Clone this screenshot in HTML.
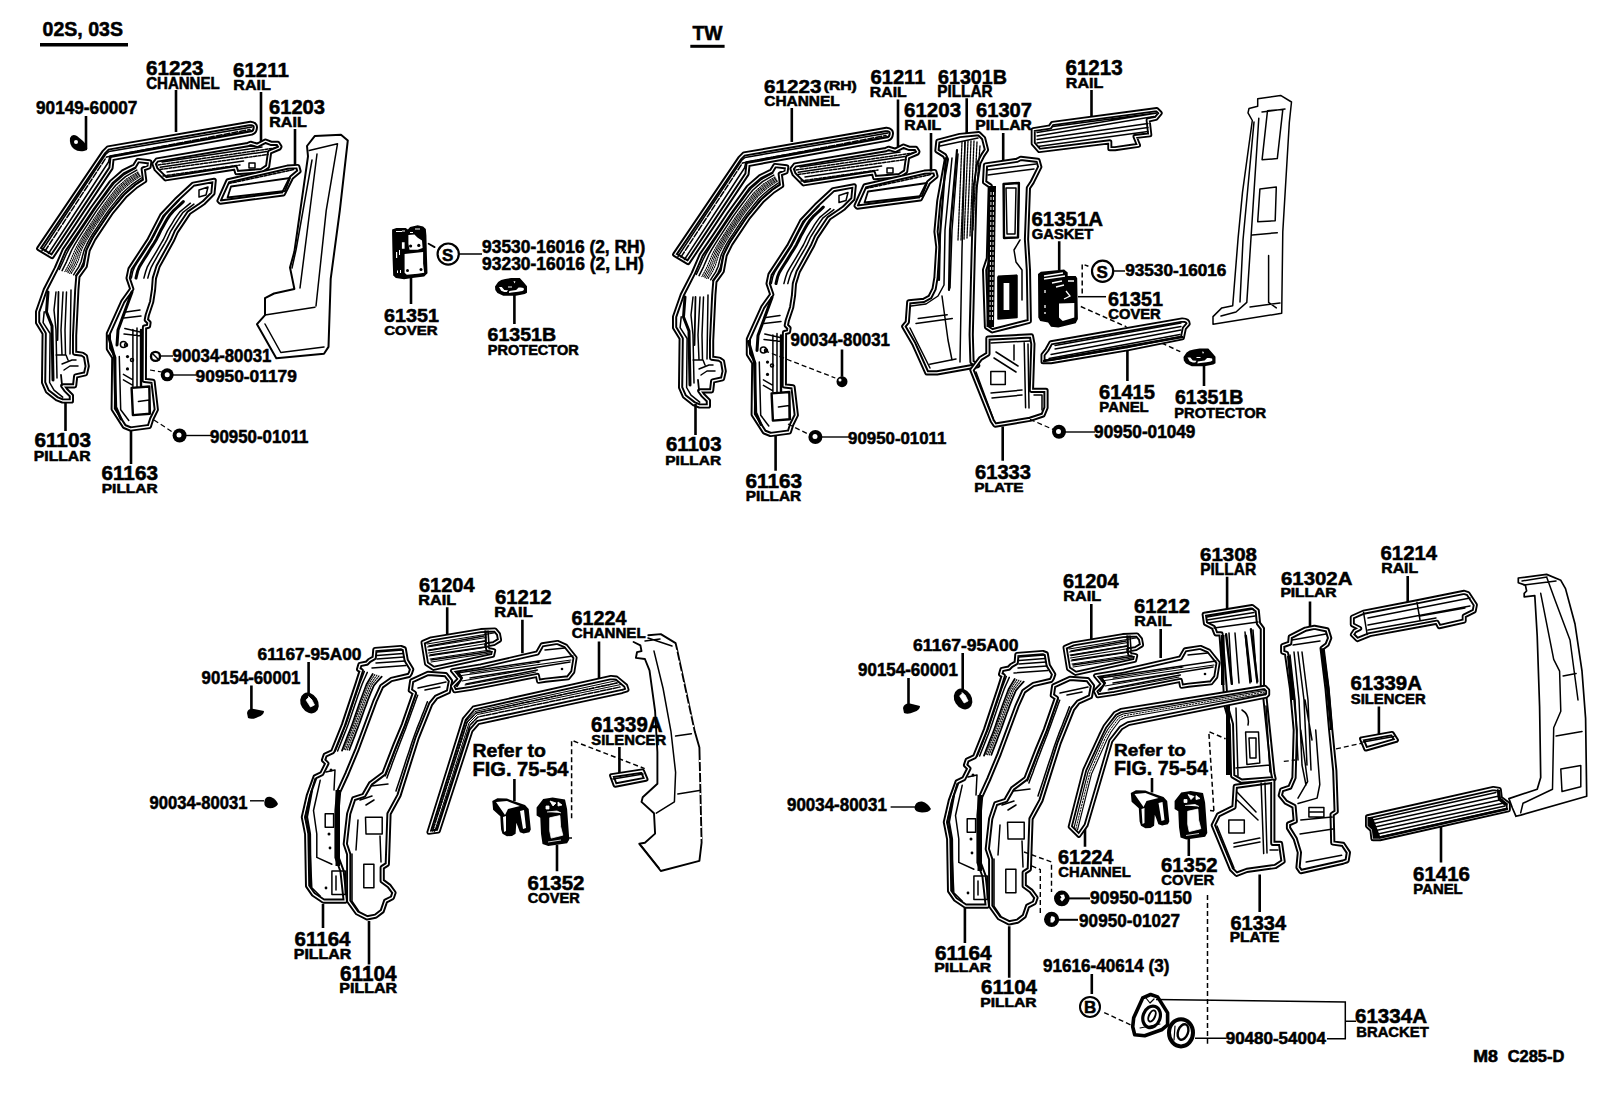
<!DOCTYPE html>
<html><head><meta charset="utf-8"><title>Parts diagram</title>
<style>
html,body{margin:0;padding:0;background:#fff;width:1608px;height:1102px;overflow:hidden}
svg{display:block}
text{font-family:"Liberation Sans",sans-serif;font-weight:bold;fill:#000;stroke:#000;stroke-width:0.55px}
.o{fill:none;stroke:#000;stroke-width:2.8;stroke-linejoin:round;stroke-linecap:round}
.t{fill:none;stroke:#000;stroke-width:1.5;stroke-linejoin:round;stroke-linecap:round}
.h{fill:none;stroke:#000;stroke-width:1;stroke-linecap:round}
.oa{fill:none;stroke:#000;stroke-width:5.2;stroke-linejoin:round;stroke-linecap:round}
.ob{fill:none;stroke:#fff;stroke-width:1.3;stroke-linejoin:round;stroke-linecap:round}
.w{fill:#fff;stroke:#000;stroke-width:2.2;stroke-linejoin:round}
.f{fill:#000;stroke:none}
.l{fill:none;stroke:#000;stroke-width:2.6;stroke-linecap:butt}
.d{fill:none;stroke:#000;stroke-width:1.6;stroke-dasharray:5 3}
</style></head><body>
<svg width="1608" height="1102" viewBox="0 0 1608 1102">
<!-- underlines -->
<rect x="40" y="43" width="88" height="3.5" class="f"/>
<rect x="690.3" y="44.8" width="34.3" height="3" class="f"/>

<!-- ============ SECTION A (02S,03S) ============ -->
<!-- leaders A -->
<path class="l" d="M176,90V132 M261,92V145 M295,129V167 M86,116V149 M65.5,401V431 M131,429V464 M411,278V304 M514.4,294V324"/>
<g id="a1">
<path class="oa" d="M38.7,248.5 L104,152 L108,148 L250.5,123.4 Q256,124 255.3,128 Q255,132 251.8,133 L112,158.5 L111,168 L52,256.5 Z"/><path class="ob" d="M38.7,248.5 L104,152 L108,148 L250.5,123.4 Q256,124 255.3,128 Q255,132 251.8,133 L112,158.5 L111,168 L52,256.5 Z"/>
<path class="t" d="M45,251 L106.5,157 L250,129.5" style="stroke-dasharray:6 2"/>
<path class="t" d="M42,250.5 L105.5,154.5 L109,151.5 L252,127 M48.5,253.5 L108.5,162 L110,156 L252.5,130.5"/>
</g>
<!-- bolt 90149 -->
<path class="f" d="M70,138 Q72,133 77,136 L83,141 Q88,146 87,150 L84,151 Q78,152 74,149 Q69,145 70,138 Z"/>
<circle cx="76" cy="142" r="2" fill="#fff"/>
<g id="a3">
<path class="oa" d="M154,163.8 L157,160 L247.7,144.6 L250.5,143.3 L257.3,145.3 L265.5,141.2 L271,143.3 L277.8,143.3 L279.9,146.7 L279.2,148 L269.6,152.1 L267.6,166.5 L261.4,170.6 L236.8,172.7 L235.4,167.9 L165.7,178.8 L156.1,169.2 Z"/><path class="ob" d="M154,163.8 L157,160 L247.7,144.6 L250.5,143.3 L257.3,145.3 L265.5,141.2 L271,143.3 L277.8,143.3 L279.9,146.7 L279.2,148 L269.6,152.1 L267.6,166.5 L261.4,170.6 L236.8,172.7 L235.4,167.9 L165.7,178.8 L156.1,169.2 Z"/>
<path class="t" d="M160.2,167.2 L266.9,151.5 M167,172 L243.6,161 M162,162 L262,147"/>
<path class="t" d="M249,163 h6 v5 h-6 z"/>
<path class="t" d="M158,165 L275,148 M163,176 L240,165 M160,169.5 L268,154.5" style="stroke-dasharray:3 1.5"/>
</g>
<g id="a4">
<path class="oa" d="M219,200.7 L227.9,180.9 L287.4,167.2 L297.7,166.5 L299,171.3 L291.5,177.5 L283.3,193.9 L220.4,202.1 Z"/><path class="ob" d="M219,200.7 L227.9,180.9 L287.4,167.2 L297.7,166.5 L299,171.3 L291.5,177.5 L283.3,193.9 L220.4,202.1 Z"/>
<path class="t" d="M229,183.5 L294,169.5" style="stroke-dasharray:3 1.5"/><path class="t" d="M231,186.5 L290,178 L285,191 L227.5,197.5 Z" style="stroke-width:1.8"/>

</g>
<g id="a2">
<path class="oa" d="M137.9,160.5 L149.7,161.8 L149,166.9 L143.2,169 L144.7,180.6 L135.9,186.4 L125.8,195.2 L111.3,212.6 L93.9,238.7 L88.1,250.3 L85.2,266.3 L77.9,276.4 L76.8,290 L74.6,335.7 L74.6,353.1 L82.3,354.2 L85.5,356.4 L87.2,366.2 L85.5,373.8 L75.7,376 L74.6,385.8 L62.7,385.8 L65.9,390.2 L71.4,395.6 L71.4,401 L62.7,401 L57.2,398.9 L47.4,391.2 L43.6,382.5 L44.2,333.5 L37.6,322.7 L37.6,311.8 L45.2,290 L56.3,268.4 L64.2,250 L77.9,230 L92.4,208.2 L111.3,182.1 L122.9,171.9 L134.5,166.1 Z"/><path class="ob" d="M137.9,160.5 L149.7,161.8 L149,166.9 L143.2,169 L144.7,180.6 L135.9,186.4 L125.8,195.2 L111.3,212.6 L93.9,238.7 L88.1,250.3 L85.2,266.3 L77.9,276.4 L76.8,290 L74.6,335.7 L74.6,353.1 L82.3,354.2 L85.5,356.4 L87.2,366.2 L85.5,373.8 L75.7,376 L74.6,385.8 L62.7,385.8 L65.9,390.2 L71.4,395.6 L71.4,401 L62.7,401 L57.2,398.9 L47.4,391.2 L43.6,382.5 L44.2,333.5 L37.6,322.7 L37.6,311.8 L45.2,290 L56.3,268.4 L64.2,250 L77.9,230 L92.4,208.2 L111.3,182.1 L122.9,171.9 L134.5,166.1 Z"/>


<path class="t" d="M135.7,168.2 L129.8,171.3 L124.1,174.5 L119.1,178.9 L114.1,183.3 L110.0,188.4 L106.1,193.7 L102.1,199.1 L98.2,204.4 L94.4,209.8 L90.7,215.3 L87.0,220.9 L83.4,226.4 L79.7,231.9 L76.1,237.4 L72.5,243.0 L69.1,248.6 L66.1,254.5 L63.5,260.5 L60.7,266.5 L59.3,269.5"/>
<path class="t" d="M136.8,170.1 L131.1,173.3 L125.5,176.6 L120.6,180.9 L115.7,185.3 L111.6,190.4 L107.7,195.6 L103.8,200.8 L99.9,206.1 L96.1,211.4 L92.5,216.9 L88.9,222.3 L85.3,227.8 L81.7,233.3 L78.2,238.8 L74.8,244.3 L71.7,250.0 L69.1,255.9 L66.5,261.8 L63.6,267.6 L62.1,270.6"/>
<path class="t" d="M141.3,178.0 L136.2,181.6 L131.3,185.2 L126.6,189.3 L122.2,193.5 L118.2,198.3 L114.3,203.1 L110.4,207.9 L106.8,212.9 L103.3,218.0 L99.9,223.2 L96.5,228.3 L93.0,233.5 L89.8,238.7 L86.9,244.2 L84.3,249.7 L82.6,255.6 L81.1,261.5 L78.6,267.1 L75.3,272.2 L73.6,274.8"/>
<path class="t" d="M142.2,179.5 L137.2,183.1 L132.4,186.9 L127.8,190.9 L123.4,195.1 L119.5,199.8 L115.6,204.5 L111.7,209.3 L108.1,214.2 L104.7,219.3 L101.3,224.4 L97.9,229.5 L94.5,234.5 L91.3,239.8 L88.5,245.2 L86.0,250.7 L84.7,256.7 L83.4,262.6 L80.9,268.1 L77.5,273.1 L75.7,275.6"/>
<path class="t" d="M137.9,172.1 L132.4,175.3 L126.9,178.7 L122.1,183.0 L117.3,187.3 L113.2,192.3 L109.3,197.4 L105.4,202.6 L101.6,207.8 L97.9,213.1 L94.3,218.4 L90.7,223.8 L87.2,229.2 L83.7,234.6 L80.3,240.1 L77.1,245.6 L74.4,251.4 L72.0,257.2 L69.5,263.1 L66.4,268.8 L64.9,271.6" style="stroke-dasharray:1.2 1.3;stroke-width:1.1"/>
<path class="t" d="M138.5,173.1 L133.0,176.4 L127.7,179.9 L122.9,184.1 L118.2,188.4 L114.1,193.4 L110.2,198.4 L106.3,203.5 L102.5,208.7 L98.8,213.9 L95.3,219.3 L91.7,224.6 L88.2,229.9 L84.8,235.3 L81.5,240.8 L78.4,246.4 L75.9,252.1 L73.6,258.0 L71.1,263.8 L68.0,269.4 L66.5,272.2" style="stroke-dasharray:1.2 1.3;stroke-width:1.1"/>
<path class="t" d="M139.1,174.1 L133.7,177.5 L128.5,181.0 L123.7,185.2 L119.0,189.5 L115.0,194.4 L111.1,199.4 L107.2,204.4 L103.4,209.6 L99.8,214.8 L96.3,220.1 L92.7,225.4 L89.2,230.7 L85.8,236.0 L82.6,241.5 L79.6,247.1 L77.3,252.8 L75.2,258.7 L72.7,264.5 L69.5,270.0 L68.0,272.7" style="stroke-dasharray:1.2 1.3;stroke-width:1.1"/>
<path class="t" d="M139.7,175.2 L134.4,178.6 L129.2,182.1 L124.5,186.3 L119.9,190.6 L115.9,195.5 L112.0,200.4 L108.1,205.4 L104.3,210.5 L100.7,215.7 L97.2,220.9 L93.7,226.2 L90.2,231.4 L86.9,236.8 L83.8,242.2 L80.9,247.8 L78.7,253.6 L76.8,259.5 L74.3,265.2 L71.1,270.6 L69.5,273.3" style="stroke-dasharray:1.2 1.3;stroke-width:1.1"/>
<path class="t" d="M140.3,176.2 L135.1,179.7 L130.0,183.3 L125.3,187.4 L120.7,191.7 L116.7,196.5 L112.8,201.4 L108.9,206.3 L105.2,211.4 L101.7,216.5 L98.2,221.8 L94.7,227.0 L91.3,232.2 L88.0,237.5 L84.9,243.0 L82.1,248.5 L80.2,254.3 L78.4,260.2 L75.9,265.9 L72.6,271.2 L71.0,273.8" style="stroke-dasharray:1.2 1.3;stroke-width:1.1"/>
<path class="t" d="M44.2,311.8 L43.1,322.7 L50.1,333.5 L49.6,382.5 L54,390.2 L62.7,397.2 M56,292 L54,310 L56,330 L57,378 M63,292 L61,330 L62,355 M66.5,292 L65,330 L65.5,355 M71,290 L70,354 M56,355 L66,355 L68,360 M62,364 L72,360 L76,360 M64,370 L70,366 L78,366"/>
<path class="t" style="stroke-width:3" d="M48,292 L46.5,312 L52,326 L53,380"/>
<path class="t" style="stroke-width:1.8" d="M58.5,292 L57.5,340 M61,375 L62,385"/>
</g>
<g id="a5">
<path class="oa" d="M193.2,184.2 L214.2,180.3 L212.9,193.4 L203.7,202.6 L199.8,205.4 L188.9,212.7 L176.2,231.7 L172.6,240 L158.1,266.3 L154.4,278.1 L153.5,289.9 L151.7,301.7 L147.2,315.3 L146.3,319.9 L149,322.6 L148.5,326.2 L144.5,327.1 L144.3,380.4 L153,381.4 L156.3,409.7 L151.7,419 L149.3,426.5 L130.6,429 L124.4,426.5 L113.2,409.1 L113.8,357.5 L108.4,348.8 L108.4,333.5 L122.7,301.7 L131.8,289 L128.1,278.1 L130,269 L149,240 L161.7,215.4 L176.2,200 Z"/><path class="ob" d="M193.2,184.2 L214.2,180.3 L212.9,193.4 L203.7,202.6 L199.8,205.4 L188.9,212.7 L176.2,231.7 L172.6,240 L158.1,266.3 L154.4,278.1 L153.5,289.9 L151.7,301.7 L147.2,315.3 L146.3,319.9 L149,322.6 L148.5,326.2 L144.5,327.1 L144.3,380.4 L153,381.4 L156.3,409.7 L151.7,419 L149.3,426.5 L130.6,429 L124.4,426.5 L113.2,409.1 L113.8,357.5 L108.4,348.8 L108.4,333.5 L122.7,301.7 L131.8,289 L128.1,278.1 L130,269 L149,240 L161.7,215.4 L176.2,200 Z"/>
<path class="t" d="M199,190 L208,187 L206,195 L199,197 Z"/>
<circle class="t" cx="126" cy="345" r="1.5"/><circle class="t" cx="132" cy="360" r="1.5"/>
<path class="t" d="M179.0,200.6 L175.7,204.0 L172.4,207.3 L169.1,210.7 L165.9,214.2 L163.3,218.1 L161.1,222.2 L158.8,226.4 L156.6,230.6 L154.5,234.8 L152.3,239.0 L149.9,243.0 L147.3,247.0 L144.8,251.0 L142.2,255.0 L139.7,258.9 L137.1,262.9 L134.6,266.9 L132.8,271.2 L131.8,275.8 L131.3,278.1"/>
<path class="t" d="M190.4,203.2 L186.8,206.1 L183.3,209.0 L179.8,211.9 L177.0,215.6 L174.4,219.4 L172.1,223.3 L169.7,227.2 L167.3,231.1 L165.4,235.3 L163.4,239.5 L161.1,243.4 L158.8,247.4 L156.5,251.3 L154.1,255.3 L151.8,259.2 L149.4,263.2 L147.2,267.2 L145.7,271.5 L144.5,275.9 L143.9,278.1"/>
<path class="t" d="M193.9,204.1 L190.3,206.8 L186.7,209.5 L183.1,212.3 L180.5,216.0 L177.9,219.8 L175.5,223.6 L173.1,227.5 L170.7,231.3 L168.8,235.5 L166.9,239.6 L164.7,243.6 L162.4,247.5 L160.1,251.4 L157.8,255.4 L155.6,259.3 L153.3,263.3 L151.2,267.3 L149.7,271.5 L148.4,275.9 L147.8,278.1"/>
<path class="t" d="M183.3,201.6 L179.9,204.8 L176.5,208.0 L173.1,211.2 L170.1,214.7 L167.5,218.6 L165.2,222.6 L162.9,226.7 L160.6,230.8 L158.6,235.0 L156.5,239.2 L154.1,243.2 L151.6,247.1 L149.2,251.1 L146.7,255.1 L144.2,259.0 L141.7,263.0 L139.3,267.0 L137.6,271.3 L136.5,275.8 L136.0,278.1" style="stroke-width:3"/>
<path class="t" d="M119.3,356.6 L120.7,409.7 L128.8,420.5 M132.9,329.4 L132.9,386.5 M137,328 L137,386.5 M124.8,328.5 L142.4,332.6 M124,334 L142,336 M138.4,401.5 L149.3,400.1 L149.3,413.8 M123.4,374.3 L132.9,379.8 M123.4,379.8 L132.9,385.3 M126,312 L140,310 M124,318 L141,316"/>
<path class="t" style="stroke-width:3" d="M108.5,336 L114.5,357 L115.7,407 L121,419 M132,292 L118,330 L117,345"/>
<path class="t" style="stroke-width:2.4" d="M131.6,387.9 L149.3,386.5 L149.9,413.8 L132.9,415.1 Z M141,330 L141,386"/>
<circle class="t" cx="123.4" cy="344.4" r="3"/><circle class="f" cx="127.5" cy="356.6" r="1.6"/><circle class="f" cx="127.5" cy="368.9" r="1.6"/>
</g>
<!-- A6 quarter panel -->
<path class="t" style="stroke-width:2" d="M314.9,135.9 L341,134.7 L347.8,140.4 L339.8,210.7 L330.7,278.8 L328.5,346.9 L324,353.7 L276.3,358.2 L257,324.2 L265,315.1 L265,298.1 L274,293.5 L294.4,289 L290,267.5 L294.4,251.6 L308,156.3 L307,146 Z"/>
<path class="t" d="M309.2,150.6 L337.5,143.8 L326.2,210.7 L316,306 M317,154 L300,288 M265,315 L314.9,307.2 M265,324 L280.8,352.5 L324,346.9 M312,160 L296,250 L292,268"/>
<!-- A7 cover 61351 -->
<path class="f" d="M392.1,229.6 L396.4,228 L405.7,228 L407.9,229.6 L410.1,226.9 L417.7,225.3 L423.1,226.4 L425.8,229.1 L426.4,235.6 L426.9,255.2 L427.5,273.2 L424.2,276.5 L412.2,278.1 L404.1,279.2 L395.9,278.1 L393.2,275.4 L392.6,259 L392.1,234 Z"/>
<path d="M404.6,254.1 L423.1,252 L423.1,263.4 L424.2,272.7 L417.7,273.7 L406.8,274.8 L404.6,272.7 Z M408.4,235.1 L414.4,234.5 L417.7,237.8 L422,240.5 L422.6,248.1 L417.7,249.8 L409.5,249.8 L408.4,243.8 Z M401.9,242.2 h2.7 v6.5 h-2.7 z M396,252 h1.2 v6 h-1.2 z M399,250 h1 v5 h-1 z M397,270.5 h1 v2.5 h-1 z M400,270 h1 v3 h-1 z M396,231 h6 v1 h-6 z M402,230.5 h3 v1 h-3 z M415,228.5 h5 v1 h-5 z M410,232 h3 v1 h-3 z" fill="#fff"/>
<circle class="f" cx="410.6" cy="246" r="1.6"/><circle class="f" cx="418.8" cy="245.4" r="1.6"/><circle class="f" cx="407.5" cy="270.5" r="1.5"/><circle class="f" cx="421" cy="269.5" r="1.5"/>
<path class="h" d="M428.6,243.8 L434.6,247.1" style="stroke-width:1.8"/>
<circle class="t" cx="448.2" cy="254.1" r="10.6" style="stroke-width:2.2"/>
<text x="442" y="260.5" font-size="17" style="font-weight:bold">S</text>
<path class="l" d="M459,254 H482" style="stroke-width:1.5"/>
<!-- A8 protector 61351B -->
<g id="prot">
<path class="f" d="M495,286.5 L498.1,282.1 L501.2,280 L505.2,279 L511.1,278.1 L519.8,278.1 L523.2,281.8 L527,286.2 L527,292.7 L524.8,293.9 L519.8,294.9 L515.8,295.8 L503.3,295.8 L497.4,293 L495.3,289.9 Z"/>
<path d="M499,287.1 L501.8,287.1 L504.3,289.9 L508,290.2 L506.8,292.1 L504.3,292.1 L501.2,290.8 Z M509.3,291.1 L516.1,289.9 L518.6,287.4 L520.8,287.4 L523.6,288 L523.9,289.9 L522.3,291.1 L518,291.8 L511.7,292.4 L508.9,293 Z M508,286.5 h4 v1 h-4 z M513.5,281 l2,0.5 l-1,2 z" fill="#fff"/>
</g>
<!-- A small fasteners -->
<circle class="t" cx="155.5" cy="356.4" r="4.5" style="stroke-width:2.4"/><path class="t" d="M152,353 L159,360" style="stroke-width:1.5"/>
<path class="l" d="M160,356 H173" style="stroke-width:1.4"/>
<circle class="f" cx="167.2" cy="374.8" r="6.5"/><circle cx="167.2" cy="374.8" r="2.5" fill="#fff"/><path class="l" d="M172.7,375 H196.5" style="stroke-width:1.4"/>
<circle class="f" cx="179.6" cy="435.5" r="7"/><circle cx="179" cy="435" r="2.5" fill="#fff"/><path class="l" d="M185,435.5 H211" style="stroke-width:1.4"/>
<path class="d" d="M150,370 L162,372 M154,420 L174,433" style="stroke-width:1.2"/>

<!-- ============ SECTION B (TW) ============ -->
<use href="#a1" transform="translate(636,6)"/>
<use href="#a3" transform="translate(638,5)"/>
<use href="#a4" transform="translate(637,5)"/>
<use href="#a2" transform="translate(637,5)"/>
<use href="#a5" transform="translate(640,5.5)"/>
<path class="l" d="M791.8,108V142 M898,99.5V147 M931,133V171.6 M966.7,98.3V134.3 M1003.2,133V161.7 M1091.5,90V118 M1059.2,241.3V270 M1127.4,348V381 M1204,364.7V386 M695.5,404V435 M775.6,435V470.8 M1002.7,426.5V460.8 M842,349.4V376.8"/>
<!-- B6 pillar 61301B -->
<path class="oa" d="M937.9,141.2 L959.8,135.5 L978.8,133.6 L983.6,138.3 L986.5,149.8 L982.7,155.5 L978.8,163.1 L975,187.9 L973.1,258.4 L971.2,334.6 L972,362 L977.7,365.6 L937.1,372.9 L926.9,372.9 L913.9,343.9 L903.7,326.4 L907.3,322.1 L908.8,301.8 L924,300.3 L930,297 L934.1,288.9 L936,277.4 L937.9,247 L936,231.7 L938.8,201.2 L946.4,159.3 L944.5,155.5 L936.9,150.7 Z"/><path class="ob" d="M937.9,141.2 L959.8,135.5 L978.8,133.6 L983.6,138.3 L986.5,149.8 L982.7,155.5 L978.8,163.1 L975,187.9 L973.1,258.4 L971.2,334.6 L972,362 L977.7,365.6 L937.1,372.9 L926.9,372.9 L913.9,343.9 L903.7,326.4 L907.3,322.1 L908.8,301.8 L924,300.3 L930,297 L934.1,288.9 L936,277.4 L937.9,247 L936,231.7 L938.8,201.2 L946.4,159.3 L944.5,155.5 L936.9,150.7 Z"/>
<path class="t" d="M940,146 L978,138 M952,158 L945,230 L944,285 L938,296 L926,304 L911,306 M958,154 L952,230 L950,288 M965,142 L962,250 L960,362 M918.2,318.5 L947.2,314.8 M916,323.5 L952.3,318.5 M929.8,364.2 L956,359 M910,328 L922,352 L930,368 M942,296 L948,340 L952,360"/>
<path class="t" d="M962,142 L958,240 M965,142 L961,240 M968,141 L964,240 M971,141 L967,238 M974,141 L970,236 M977,142 L973,230 M980,146 L976,200" style="stroke-dasharray:2.2 1;stroke-width:1.3"/>
<path class="t" style="stroke-width:2.2" d="M957,150 L950,230 L949,290 M946,158 L940,235 L939,280"/>
<!-- B7 pillar 61307 -->
<path class="oa" d="M985.5,165 L1017,160.3 L1020.8,158.3 L1037.9,160.3 L1039.8,166.9 L1032.2,182.2 L1028.4,187.9 L1026.5,239.3 L1028.4,269.8 L1029.3,321.3 L992.2,330.8 L986.5,327 L984.6,269.8 L988.4,258.4 L990.3,186 L984.6,182.2 Z"/><path class="ob" d="M985.5,165 L1017,160.3 L1020.8,158.3 L1037.9,160.3 L1039.8,166.9 L1032.2,182.2 L1028.4,187.9 L1026.5,239.3 L1028.4,269.8 L1029.3,321.3 L992.2,330.8 L986.5,327 L984.6,269.8 L988.4,258.4 L990.3,186 L984.6,182.2 Z"/>
<path class="t" d="M987,170 L1036,164 M988,175 L1034,169 M1003.6,184 L1018.9,183 L1018,237.4 L1004,238 Z M1006,188 L1016,188 L1015,234 L1007,234 Z M997.9,277 L1017,275.5 L1017,317.5 L998,319 Z M1002,282 L1008,282 L1008,314 L1002,314 Z M1020,240 L1014,250 L1016,262 L1022,270 L1022,300"/>
<path class="f" d="M988.4,186 L996,186 L994,327 L986.5,327 Z"/>
<path d="M991,192 L990,320 M993.5,192 L992.5,320" stroke="#fff" stroke-width="0.9" stroke-dasharray="3 2" fill="none"/>
<path class="f" d="M997.9,275.5 L1017,274.5 L1017,317.5 L998,319 Z"/>
<path d="M1003.6,283 h5.7 v27 h-5.7 z" fill="#fff"/>
<path class="t" style="stroke-width:2.4" d="M1003.6,184 L1018.9,183 L1018,237.4 L1004,238 Z"/>
<!-- B8 plate 61333 -->
<path class="oa" d="M987.9,338.1 L1031.4,335.9 L1032.9,343.9 L1031.4,390.3 L1046,390.3 L1046,407.7 L1043,415 L1030,419.3 L995.1,425.1 L992.2,420.8 L971.9,370 L980.6,358.4 L987.9,354 Z"/><path class="ob" d="M987.9,338.1 L1031.4,335.9 L1032.9,343.9 L1031.4,390.3 L1046,390.3 L1046,407.7 L1043,415 L1030,419.3 L995.1,425.1 L992.2,420.8 L971.9,370 L980.6,358.4 L987.9,354 Z"/>
<path class="t" d="M991,343 L1030,341 M1024.2,342.4 L1025.6,407.7 M1028,344 L1029,408 M990.8,371.4 h14.5 v13 h-14.5 z M991,393 L1022,390 M992,398 L1022,395 M996,352 L1018,366 M994,358 L1016,372 M1034,395 L1042,395 L1042,410 M976,372 L993,418 M1014,345 L1014,360"/>
<!-- B9 rail 61213 -->
<path class="oa" d="M1033.2,129.6 L1050,127 L1052.4,123.5 L1156.8,109.6 L1160.3,113.1 L1155.9,118.3 L1148.1,120 L1149.8,134.8 L1135,136.6 L1138.5,145.3 L1115,148.7 L1109.8,148.7 L1109.8,141.8 L1039.3,150.5 L1033.2,143.5 Z" style="stroke-width:5.0"/><path class="ob" d="M1033.2,129.6 L1050,127 L1052.4,123.5 L1156.8,109.6 L1160.3,113.1 L1155.9,118.3 L1148.1,120 L1149.8,134.8 L1135,136.6 L1138.5,145.3 L1115,148.7 L1109.8,148.7 L1109.8,141.8 L1039.3,150.5 L1033.2,143.5 Z" />
<path class="t" d="M1037,132.5 L1157,113 M1037,136 L1154,116.5 M1037,139.5 L1148,123.5 M1037,143 L1148,127.5 M1038,146.5 L1148,131.5 M1053,126.5 L1156,113" style="stroke-width:1.3"/>
<!-- B10 cover 61351 + gasket -->
<path class="f" d="M1038,273.9 L1040.9,271.7 L1064.1,269.5 L1067.7,272.4 L1067.7,276 L1075.7,276 L1077.2,278.2 L1077.9,318.9 L1075.7,323.2 L1058.3,327.6 L1051,326.8 L1048.1,322.5 L1040.2,321 L1038.3,317.4 Z"/>
<path d="M1059,303.6 L1074.3,302.9 L1074.3,317.4 L1062.7,321 L1059,317.4 Z" fill="#fff"/>
<path d="M1044,276 L1063,273 M1044,279 L1065,276 M1052,283 L1062,281 M1056,287 L1064,285 M1068,281 L1074,281 M1045,290 v3 M1045,305 v3 M1045,312 v2 M1066,291 L1070,296 L1064,299" stroke="#fff" style="stroke-width:1.3" fill="none"/>
<path class="d" d="M1082.2,293.5 V264 L1088.4,266.2" style="stroke-width:1.5"/>
<circle class="t" cx="1102.6" cy="271.3" r="10.6" style="stroke-width:2.2"/>
<text x="1096.4" y="277.7" font-size="17" style="font-weight:bold">S</text>
<path class="l" d="M1113.5,271 H1125" style="stroke-width:1.5"/>
<path class="l" d="M1078,296.7 H1106" style="stroke-width:1.5"/>
<path class="d" d="M1080.8,306.5 L1126.5,326.8 M1161.7,343 L1180.3,351.7" style="stroke-width:1.4"/>
<!-- B11 panel 61415 -->
<path class="oa" d="M1047,349.8 L1050.9,342.8 L1182.3,320 Q1188,320 1188.2,323.9 L1184.3,328.4 L1182.3,337.9 L1127.5,348.8 L1050.9,361.7 L1043,361.7 L1043,354.8 Z" style="stroke-width:5.0"/><path class="ob" d="M1047,349.8 L1050.9,342.8 L1182.3,320 Q1188,320 1188.2,323.9 L1184.3,328.4 L1182.3,337.9 L1127.5,348.8 L1050.9,361.7 L1043,361.7 L1043,354.8 Z" />
<path class="t" d="M1055,345.5 L1181,323 M1055,349 L1181,326.5 M1051,354.5 L1181,330 M1049,358.5 L1180,334.5" style="stroke-width:1.3"/>
<path class="t" d="M1044,361 L1182,337" style="stroke-width:2.5"/>
<!-- B12 protector -->
<use href="#prot" transform="translate(688.5,70.5)"/>
<!-- B13 big pillar -->
<path class="t" d="M1257.7,98.7 L1280.6,95.4 L1291.5,102 L1289.3,122.7 L1282.8,231.6 L1281.7,313.3 L1213,324.2 L1213,316.6 L1221.8,307.9 L1232.7,305.7 L1238.1,238.1 L1242.5,192.4 L1252.3,120.5 L1248,112.9 L1249,108.5 L1257.7,106.3 Z" />
<path class="t" d="M1258.8,118.3 L1246.8,302.4 L1236,312 L1221,316 M1254,122 L1243,240 L1240,302 M1262,112 L1285,109 M1267.5,110.7 L1282.8,109.6 L1277.3,158.6 L1262.1,159.7 Z M1259.9,189.1 L1276.3,187 L1275.2,220.7 L1257.7,221.8 Z M1252.3,234.9 L1277.3,232.7 M1268.6,255.6 L1268.6,302.4 L1276.3,307.9 M1250,307 L1280,303"/>
<!-- B fasteners -->
<circle class="f" cx="842" cy="381.7" r="5.5"/><circle cx="840" cy="380" r="1.5" fill="#fff"/>
<path class="d" d="M764.4,350.6 L835.3,378" style="stroke-width:1.3"/>
<circle class="f" cx="815.4" cy="437" r="7"/><circle cx="815" cy="436.5" r="2.5" fill="#fff"/><path class="l" d="M821,437 H849" style="stroke-width:1.4"/>
<path class="d" d="M788,424 L808,434" style="stroke-width:1.3"/>
<circle class="f" cx="1059" cy="431.8" r="7"/><circle cx="1058.5" cy="431.5" r="2.5" fill="#fff"/><path class="l" d="M1065,432 H1095" style="stroke-width:1.4"/>
<path class="d" d="M1030,419.3 L1053.2,429.5" style="stroke-width:1.3"/>

<!-- ============ SECTION C (bottom-left) ============ -->
<path class="l" d="M447.2,607.3V636 M522.4,619.7V653.3 M599,641.6V679 M619.4,747V773.4 M514.4,779V801.3 M557,844.8V871.3 M323,904V928 M369,921V964.5 M308.6,662V694.3 M251.4,685.6V709.3"/>
<path class="l" d="M250,800.8H264" style="stroke-width:1.4"/>
<!-- C fasteners -->
<path class="f" d="M264.3,802 Q265,796 271,797 Q276,799 278,804 Q276,808 270,808.3 Q264,808 264.3,802 Z"/>
<path class="f" d="M247,713 Q248,708 254,709 L264,711 Q264,715 258,717 Q252,720 248,718 Z"/>
<g id="wsh"><ellipse class="f" cx="309.5" cy="703" rx="8.6" ry="11" transform="rotate(-32 309.5 703)"/><path d="M306,700 L309,697 L312,700 L314.5,705 L310.5,707 Z M308,696 L312,700" fill="#fff" stroke="#fff" stroke-width="0.7"/></g>
<g id="c1">
<!-- C1 pillar 61164 -->
<path class="oa" d="M374.9,649.5 L400.8,647.5 L404.2,648.8 L406.2,660.4 L411.7,669.3 L410.3,673.4 L409,675.4 L391.3,679.5 L381.7,686.3 L374.9,701.3 L357.2,748.9 L347,773.6 L338.6,792 L337,810.5 L337,857.4 L342,870.9 L345.3,901.1 L323.5,901.1 L313.5,894.4 L307.6,886 L306.7,834 L303.4,817.2 L308.4,795.4 L315.1,776.9 L321.8,773.6 L326.9,763.5 L323.5,760.1 L325.2,755.1 L332.7,751.6 L343.6,724.4 L357.2,683.6 L361.3,670.6 L358.6,669.3 L360,664.5 L366.8,663.1 L369.5,660.4 L374.2,657.7 Z"/><path class="ob" d="M374.9,649.5 L400.8,647.5 L404.2,648.8 L406.2,660.4 L411.7,669.3 L410.3,673.4 L409,675.4 L391.3,679.5 L381.7,686.3 L374.9,701.3 L357.2,748.9 L347,773.6 L338.6,792 L337,810.5 L337,857.4 L342,870.9 L345.3,901.1 L323.5,901.1 L313.5,894.4 L307.6,886 L306.7,834 L303.4,817.2 L308.4,795.4 L315.1,776.9 L321.8,773.6 L326.9,763.5 L323.5,760.1 L325.2,755.1 L332.7,751.6 L343.6,724.4 L357.2,683.6 L361.3,670.6 L358.6,669.3 L360,664.5 L366.8,663.1 L369.5,660.4 L374.2,657.7 Z"/>
<path class="t" d="M377,652 L402,650 M377,655.5 L403,653.5 M377,659 L404,657 M376,663 L405,661 M372,668 L406,665.5"/>

<circle class="f" cx="331" cy="770" r="1.5"/><circle class="f" cx="329" cy="834" r="1.5"/><circle class="f" cx="330" cy="848" r="1.4"/><circle class="f" cx="326" cy="888" r="1.4"/>
<path class="f" d="M335.5,790 L340,790 L340,866 L335.5,866 Z"/>
<!-- C2 pillar 61104 -->
<path class="oa" d="M411.7,680.8 L428,673.4 L445.7,674.7 L450.5,680.8 L448.4,691.7 L436.2,697.2 L430.7,704 L417.1,738 L399,795.4 L389,813.8 L387.3,864.2 L382.2,867.5 L382.2,880.9 L389,885.9 L394,892.7 L392.3,897.7 L385.6,901.1 L382.2,911.1 L375.5,916.2 L367.1,917.9 L357.1,912.8 L348.7,901.1 L348.7,854.1 L345.3,844 L348.7,813.8 L353.7,798.7 L363.8,795.4 L370.5,783.6 L383.9,773.6 L395,745 L403.5,724.4 L414.4,693.1 L410.3,690.4 Z"/><path class="ob" d="M411.7,680.8 L428,673.4 L445.7,674.7 L450.5,680.8 L448.4,691.7 L436.2,697.2 L430.7,704 L417.1,738 L399,795.4 L389,813.8 L387.3,864.2 L382.2,867.5 L382.2,880.9 L389,885.9 L394,892.7 L392.3,897.7 L385.6,901.1 L382.2,911.1 L375.5,916.2 L367.1,917.9 L357.1,912.8 L348.7,901.1 L348.7,854.1 L345.3,844 L348.7,813.8 L353.7,798.7 L363.8,795.4 L370.5,783.6 L383.9,773.6 L395,745 L403.5,724.4 L414.4,693.1 L410.3,690.4 Z"/>
<path class="t" d="M418,688 L446,682 M425,690 L440,687 M365.5,817.2 L382.2,817.2 L382.2,834 L366,834 Z M363.8,864.2 L373.9,864.2 L373.9,887.7 L363.8,887.7 Z M380,836 L381,862 M358,820 L356,850 M352,854.1 L352,901.1 L358.8,911.1 M360,800 L372,796 M371,786 L388,784 M366,805 L374,800"/>

<path class="t" d="M364.3,671.5 L362.8,675.5 L361.3,679.5 L359.7,683.6 L358.3,687.7 L356.9,691.8 L355.5,696.0 L354.1,700.1 L352.7,704.2 L351.3,708.4 L349.9,712.5 L348.5,716.7 L347.1,720.8 L345.7,724.9 L344.0,729.0 L342.4,733.1 L340.8,737.1 L339.2,741.2 L337.6,745.2 L336.0,749.3 L335.1,751.3"/>
<path class="t" d="M367.3,672.4 L365.6,676.2 L363.9,680.0 L362.2,683.9 L360.7,688.0 L359.3,692.1 L357.8,696.1 L356.4,700.2 L355.0,704.3 L353.6,708.4 L352.2,712.5 L350.8,716.7 L349.4,720.8 L348.0,724.8 L346.4,728.9 L344.8,732.9 L343.2,736.9 L341.6,741.0 L340.0,745.0 L338.4,749.0 L337.6,751.1"/>
<path class="t" d="M374.8,674.6 L372.6,678.0 L370.4,681.3 L368.2,684.8 L366.7,688.7 L365.2,692.7 L363.7,696.6 L362.1,700.6 L360.7,704.6 L359.3,708.6 L357.9,712.6 L356.5,716.6 L355.1,720.6 L353.7,724.7 L352.2,728.6 L350.6,732.6 L349.1,736.5 L347.6,740.5 L346.0,744.4 L344.5,748.4 L343.7,750.4" style="stroke-dasharray:1.2 1.3;stroke-width:1.1"/>
<path class="t" d="M376.9,675.2 L374.5,678.5 L372.2,681.7 L369.9,685.0 L368.4,688.9 L366.8,692.9 L365.3,696.8 L363.8,700.7 L362.4,704.7 L361.0,708.7 L359.6,712.7 L358.2,716.6 L356.7,720.6 L355.3,724.6 L353.8,728.5 L352.3,732.5 L350.8,736.4 L349.2,740.3 L347.7,744.3 L346.2,748.2 L345.4,750.2" style="stroke-dasharray:1.2 1.3;stroke-width:1.1"/>
<path class="t" d="M379.0,675.9 L376.5,679.0 L374.0,682.1 L371.6,685.2 L370.1,689.1 L368.5,693.0 L366.9,696.9 L365.4,700.8 L364.0,704.8 L362.6,708.7 L361.2,712.7 L359.8,716.6 L358.4,720.6 L356.9,724.5 L355.4,728.5 L353.9,732.4 L352.4,736.3 L350.9,740.2 L349.4,744.1 L347.9,748.0 L347.2,750.0" style="stroke-dasharray:1.2 1.3;stroke-width:1.1"/>
<path class="t" d="M372.7,674.0 L370.6,677.5 L368.5,681.0 L366.5,684.5 L365.0,688.5 L363.5,692.5 L362.0,696.5 L360.5,700.5 L359.1,704.5 L357.7,708.6 L356.3,712.6 L354.9,716.6 L353.5,720.7 L352.1,724.7 L350.6,728.7 L349.0,732.7 L347.4,736.6 L345.9,740.6 L344.3,744.6 L342.8,748.6 L342.0,750.6" style="stroke-width:1.8"/>
<path class="t" d="M381.7,676.7 L379.0,679.6 L376.4,682.5 L373.8,685.6 L372.2,689.4 L370.6,693.2 L369.0,697.1 L367.5,700.9 L366.1,704.9 L364.6,708.8 L363.2,712.7 L361.8,716.6 L360.4,720.6 L359.0,724.5 L357.5,728.4 L356.0,732.3 L354.6,736.1 L353.1,740.0 L351.6,743.9 L350.1,747.8 L349.4,749.8" style="stroke-width:1.8"/>
<path class="t" d="M416.0,694.2 L414.5,698.4 L413.0,702.6 L411.6,706.8 L410.1,711.0 L408.6,715.3 L407.1,719.5 L405.6,723.7 L404.0,727.9 L402.4,732.0 L400.7,736.2 L399.0,740.3 L397.4,744.5 L395.7,748.6 L394.1,752.8 L392.6,757.0 L391.0,761.2 L389.4,765.3 L387.8,769.5 L386.2,773.7 L385.4,775.8"/>
<path class="t" d="M417.7,695.3 L416.1,699.5 L414.6,703.8 L413.1,708.1 L411.5,712.3 L410.0,716.6 L408.5,720.8 L406.9,725.1 L405.4,729.3 L403.7,733.5 L402.1,737.7 L400.4,742.0 L398.8,746.2 L397.2,750.4 L395.6,754.6 L394.0,758.9 L392.4,763.1 L390.9,767.4 L389.3,771.6 L387.7,775.8 L386.9,778.0"/>
<path class="t" d="M427.4,701.8 L425.7,706.3 L423.9,710.9 L422.1,715.4 L420.4,719.9 L418.6,724.4 L416.8,728.9 L415.1,733.5 L413.5,738.0 L411.9,742.6 L410.4,747.3 L408.9,751.9 L407.3,756.5 L405.8,761.1 L404.3,765.7 L402.8,770.3 L401.3,774.9 L399.8,779.5 L398.3,784.1 L396.7,788.7 L396.0,791.0"/>
<path class="t" d="M315.1,778.6 L310.1,795.4 L305.1,817.2 L309.3,834 L311.8,887.7 L320.2,896 M320.2,780.3 L313.5,810.5 L316.8,834 L316.8,857.4 L331.9,864.2 M325.2,813.8 h8.4 v13.4 h-8.4 z M331.9,870.9 h13.4 v23.5 h-13.4 z M336,876 v14 M326,772 L335,770 L334,790"/>
<path class="t" style="stroke-width:2.2" d="M312,790 L307,817 L310,834 L310.5,886"/>
</g>
<!-- C3 rail 61204 -->
<g id="c3">
<path class="oa" d="M423,642.4 L431.2,638.9 L480.8,630.6 L494.9,629.9 L498.5,634.2 L499.6,640 L493.7,643.6 L486.7,644.8 L487.9,649.5 L493.7,650.7 L492.6,655.4 L433.6,668.4 L426.5,663.6 Z" style="stroke-width:5.0"/><path class="ob" d="M423,642.4 L431.2,638.9 L480.8,630.6 L494.9,629.9 L498.5,634.2 L499.6,640 L493.7,643.6 L486.7,644.8 L487.9,649.5 L493.7,650.7 L492.6,655.4 L433.6,668.4 L426.5,663.6 Z" />
<path class="t" d="M429,646 L484,636 M429,650.5 L486,641 M430,655 L488,646.5 M431,660 L490,651.5 M486,631 L486,645"/>
<path class="t" d="M427,644 L494,633 M427.5,647 L486,637.5 M428,650 L486,640.5 M428.5,653 L487,643.5 M429,656 L488,647 M430,659 L490,650 M431,662 L490,653" style="stroke-width:1.1"/><path class="t" d="M485,631 L486,646 M488,631 L489,645" style="stroke-width:1.6"/>
</g>
<!-- C4 rail 61212 -->
<g id="c4">
<path class="oa" d="M452.5,670.7 L480.8,666 L537.4,653 L542.1,644.8 L557.4,642.4 L565.7,646 L575.1,657.7 L572.8,671.9 L568.1,677.8 L545.6,680.2 L538.6,681.3 L537.4,675.4 L471.3,688.4 L454.8,690.8 L452.5,686.1 L459.5,679 Z" style="stroke-width:5.0"/><path class="ob" d="M452.5,670.7 L480.8,666 L537.4,653 L542.1,644.8 L557.4,642.4 L565.7,646 L575.1,657.7 L572.8,671.9 L568.1,677.8 L545.6,680.2 L538.6,681.3 L537.4,675.4 L471.3,688.4 L454.8,690.8 L452.5,686.1 L459.5,679 Z" />
<path class="t" d="M457.2,673 L573,656 M466,684 L537.4,670 M470,678 L570,662 M545,650 L565,648"/>
<circle class="f" cx="538" cy="662" r="1.3"/><circle class="f" cx="562" cy="669" r="1.3"/>
<path class="t" d="M458,676 L571,660 M462,681 L536,668 M465,685 L536,672 M470,673 L540,662" style="stroke-width:1.1"/><path class="t" d="M458,672 L462,678 L457,686" style="stroke-width:2.2"/>
</g>
<!-- C5 channel 61224 -->
<g id="c5">
<path class="oa" d="M428.9,832.3 L464.3,719.1 L473.7,708 L611,677.5 L616.5,678.1 L625.7,685.7 L627,689.8 L622,691.5 L478,722.5 L471,730.5 L438.3,831.1 Z" style="stroke-width:5.0"/><path class="ob" d="M428.9,832.3 L464.3,719.1 L473.7,708 L611,677.5 L616.5,678.1 L625.7,685.7 L627,689.8 L622,691.5 L478,722.5 L471,730.5 L438.3,831.1 Z" />
<path class="t" d="M433,829 L467,722 L476,713 L617,683 M436,830 L470,725 L478,717 L620,687" stroke-dasharray="5 1.5"/>
<path class="t" d="M431,831 L466,721 L475,711.5 L617,680.5 M434.5,832 L469,723 L477.5,714.5 L621,684.5" style="stroke-width:1"/><path class="t" d="M432.8,831.5 L467.5,722 L476.2,713 L619,682.5" style="stroke-width:1;stroke-dasharray:1.5 1.5"/>
</g>
<!-- C6 quarter panel -->
<path class="t" d="M644.9,659 L649.5,670.4 L655.1,711.2 L657.4,752 L657.4,783.7 L642.7,797.3 L641.5,801.9 L654,813.2 L655.1,833.6 L644.9,842.7 L639.3,843.8 L660.8,871 L699.4,860.8 L701.6,842.7 L699.4,747.4 L694.8,731.6 L676.7,647.7 L675.6,643.1 L660.8,634.1 L648.3,635.2 M633.6,642 L640.4,645.4 L641.5,651.1 L637,652.2 L635.9,657.9 L644.9,659" style="stroke-width:1.9"/>
<path class="t" d="M654,651.1 L663.1,688.5 L671,731.6 L675.6,772.4 L674.4,801.9 L656.3,813.2 M675.6,736.1 L691.4,733.8 M677.8,793.9 L699.4,790.5 M641.5,846 L659,868 M648,638 L672,646 M645,641 L660,639" style="stroke-width:1.5"/>
<path d="M676,650 L694,731 M700,760 L701,840" stroke="#fff" stroke-width="2" stroke-dasharray="2 9" fill="none"/>
<!-- C7 clip / cover / silencer -->
<g id="c7">
<path class="f" d="M492.3,801.1 L497.4,798.2 L506.9,798.5 L511.2,800.3 L525,805.1 L528.7,809 L530.8,829.4 L529.4,832.3 L523.6,833.4 L519.9,832.3 L517.8,826.5 L516.3,822.8 L515.6,833.7 L512,835.9 L506.9,836.3 L502.5,833.7 L501.1,829.4 L500.3,816.3 L493.1,809.8 Z"/>
<path d="M496,802 L507,801 L520,806 L508,809 L505,815 Z M503,817 L506,816 L506,831 L504,832 Z M520,811 L524,810 L526,828 L523,829 Z" fill="#fff"/>
</g>
<g id="c8">
<path class="f" d="M536.6,807.6 L543.2,798.9 L552.6,797.4 L565,799.6 L567.1,809 L569.3,839.5 L567.1,843.2 L548.3,846.1 L542.5,843.9 L541,833.7 L540.3,817.8 L536.6,815.6 Z"/>
<path d="M549.7,817.8 L559.9,815.6 L560.6,826.5 L562.8,835.2 L551.2,838.1 L549.7,830.8 Z M550,801 L553,806 L556,803 Z M558,802 L562,805 L558,806 Z M546,806 h3 v3 h-3 z M547,812 L557,811 L561,813 M548,842 L561,840" fill="#fff" stroke="#fff" stroke-width="0.8"/>
</g>
<g id="c9">
<path class="oa" d="M611.7,775.7 L642.4,771 L645.9,779.2 L615.2,785.1 Z"/><path class="ob" d="M611.7,775.7 L642.4,771 L645.9,779.2 L615.2,785.1 Z"/>
<path class="t" d="M613,779 L643,774"/>
</g>
<path class="d" d="M571.6,818.2 V740.3 L644.7,768.6 M568,838 L572,838" style="stroke-width:1.5"/>

<!-- ============ SECTION D (bottom-right) ============ -->
<path class="l" d="M1091.3,604V639.5 M962.7,653V689.2 M908.5,678V704 M1160.7,629V658 M1227.1,576.8V609.6 M1310,601.6V628.3 M1407.7,576V602.1 M1378.9,706.6V734 M1152,778V792.5 M1085,814.8V846.7 M1188.8,838.5V855.9 M964.9,908V943 M1009.2,926.3V977.8 M1259.7,874.6V911.9 M1441,826V862.6 M1091.8,974V994"/>
<use href="#c1" transform="translate(642,5)"/>
<use href="#c3" transform="translate(642,5)"/>
<use href="#c4" transform="translate(643,5)"/>
<use href="#c7" transform="translate(638.5,-8)"/>
<use href="#c8" transform="translate(638,-6.5)"/>
<!-- D fasteners -->
<path class="l" d="M890.6,807H915" style="stroke-width:1.4"/>
<path class="f" d="M914.5,808 Q915,801 922,801.5 Q928,803 931,809 Q929,812.5 922,812.5 Q915,812 914.5,808 Z"/>
<path class="f" d="M903,708 Q904,703 910,703.5 L920,706 Q920,710 914,712 Q908,715 904,713 Z"/>
<use href="#wsh" transform="translate(653.6,-4)"/>
<circle class="f" cx="1061.8" cy="898.4" r="7.8"/><path d="M1060,895 L1064,894.5 L1065,898 L1062,901.5 L1060,899 L1061.5,897.5 Z" fill="#fff"/><path class="l" d="M1069,898.4H1090" style="stroke-width:2"/>
<circle class="f" cx="1051.6" cy="919.3" r="7.6"/><path d="M1051.5,916 L1054.5,917 L1055,920 L1053,922.5 L1050.5,922.5 L1050.5,918.5 Z" fill="#fff"/><path class="l" d="M1059,919.8H1078" style="stroke-width:2"/>
<path class="d" d="M1024,852 L1051.5,862 V892 M1031.6,865.8 L1040.3,869.6 V914.3" style="stroke-width:1.4"/>
<!-- D6 pillar 61308 -->
<path class="oa" d="M1204.2,614.4 L1252.1,606.6 L1257.2,610.5 L1258.5,623.4 L1262.4,628.6 L1262.4,685.5 L1265,698.4 L1272.8,773.4 L1274,778.6 L1241.7,781.2 L1232.7,776 L1231.4,724.3 L1226.2,706.2 L1224.9,685.5 L1221,633.8 L1215.9,633.8 L1213.3,627.3 L1205.5,623.4 Z"/><path class="ob" d="M1204.2,614.4 L1252.1,606.6 L1257.2,610.5 L1258.5,623.4 L1262.4,628.6 L1262.4,685.5 L1265,698.4 L1272.8,773.4 L1274,778.6 L1241.7,781.2 L1232.7,776 L1231.4,724.3 L1226.2,706.2 L1224.9,685.5 L1221,633.8 L1215.9,633.8 L1213.3,627.3 L1205.5,623.4 Z"/>
<path class="t" d="M1207,617 L1253,609 M1207,620 L1254,612.5 M1208,623 L1255,616 M1214,628 L1258,622 M1229,633 L1232,684 M1235,633 L1239,683 M1245,632 L1250,683 M1253,630 L1257,683 M1245.6,732 L1258.5,732 L1259.8,763.1 L1246.9,764.4 Z M1249,738 L1256,738 L1256,758 L1250,758 Z M1236,708 L1238,776 M1266,706 L1270,772 M1242,710 Q1250,715 1248,725 M1236,768 L1270,765"/>
<path class="f" d="M1226,705 h4 v70 h-4 z M1221,635 h3.5 v50 h-3.5 z"/>
<!-- D5 channel 61224 -->
<path d="M1070.2,826.7 L1084.7,770 L1100.7,735.2 L1105,726.5 L1115.2,713.4 L1121,710.5 L1264.8,687.3 L1267.7,690.2 L1267.7,694.5 L1266.2,696 L1128.3,723.6 L1121,727.9 L1110.8,741 L1086.1,825.2 L1078.9,835.4 Z" fill="#fff"/>
<path class="oa" d="M1070.2,826.7 L1084.7,770 L1100.7,735.2 L1105,726.5 L1115.2,713.4 L1121,710.5 L1264.8,687.3 L1267.7,690.2 L1267.7,694.5 L1266.2,696 L1128.3,723.6 L1121,727.9 L1110.8,741 L1086.1,825.2 L1078.9,835.4 Z" style="stroke-width:5.0"/><path class="ob" d="M1070.2,826.7 L1084.7,770 L1100.7,735.2 L1105,726.5 L1115.2,713.4 L1121,710.5 L1264.8,687.3 L1267.7,690.2 L1267.7,694.5 L1266.2,696 L1128.3,723.6 L1121,727.9 L1110.8,741 L1086.1,825.2 L1078.9,835.4 Z" />
<path class="t" d="M1074,828 L1088,772 L1103.5,737 L1108,729 L1117.5,716.5 L1123,714 L1265,690.5 M1077.5,830 L1091.5,774 L1107,739.5 L1111,732 L1120,720 L1125.5,717.5 L1265.5,693.5" style="stroke-width:1.1"/>
<path class="t" d="M1075.8,829 L1089.8,773 L1105.2,738.2 L1109.5,730.5 L1118.7,718.2 L1124.2,715.7 L1265.2,692" style="stroke-width:1;stroke-dasharray:1.5 1.5"/>
<path class="d" d="M1213.9,810.7 L1208.8,731.6 L1225.6,738.8 M1210,810.5 L1214,811" style="stroke-width:1.5"/>
<!-- D7 plate 61334 -->
<path class="oa" d="M1235.3,786.4 L1272.8,781.2 L1272.8,843.3 L1280.5,843.3 L1283.1,861.4 L1275.3,866.5 L1246.9,870.4 L1236.5,874.3 L1231.4,869.1 L1213.3,825.2 L1218.4,814.8 L1234,807.1 Z"/><path class="ob" d="M1235.3,786.4 L1272.8,781.2 L1272.8,843.3 L1280.5,843.3 L1283.1,861.4 L1275.3,866.5 L1246.9,870.4 L1236.5,874.3 L1231.4,869.1 L1213.3,825.2 L1218.4,814.8 L1234,807.1 Z"/>
<path class="t" d="M1237,792 L1256,812 M1237,800 L1258,820 M1228.8,820 h15.5 v13 h-15.5 z M1261.1,783 L1263.7,853.6 M1265,783 L1267,853 M1234,843.3 L1259.8,838.1 M1234,847 L1260,842 M1217,826 L1234,868 M1270,850 L1278,850"/>
<!-- D8 pillar 61302A -->
<path class="oa" d="M1290.3,636.8 L1305.5,629.2 L1314.4,627.3 L1327.1,629.9 L1329.7,638.1 L1327.1,644.5 L1322.1,648.3 L1327.1,688.9 L1330.7,730 L1334.8,770.8 L1336.2,811.7 L1332.1,814.4 L1332.8,843 L1343,844.4 L1348.4,852.5 L1347.1,860.7 L1343,862.1 L1300.8,871.6 L1298,867.5 L1299.4,852.5 L1295.3,838.9 L1288.5,828 L1288.5,824 L1295.3,821.2 L1294,806.3 L1285.8,802.2 L1280.3,795.4 L1281.7,789.9 L1289.9,787.2 L1294,777.7 L1295.3,730 L1291.6,688.9 L1286.5,653.4 L1282.7,652.1 L1282.7,645.7 L1289.7,643.2 Z"/><path class="ob" d="M1290.3,636.8 L1305.5,629.2 L1314.4,627.3 L1327.1,629.9 L1329.7,638.1 L1327.1,644.5 L1322.1,648.3 L1327.1,688.9 L1330.7,730 L1334.8,770.8 L1336.2,811.7 L1332.1,814.4 L1332.8,843 L1343,844.4 L1348.4,852.5 L1347.1,860.7 L1343,862.1 L1300.8,871.6 L1298,867.5 L1299.4,852.5 L1295.3,838.9 L1288.5,828 L1288.5,824 L1295.3,821.2 L1294,806.3 L1285.8,802.2 L1280.3,795.4 L1281.7,789.9 L1289.9,787.2 L1294,777.7 L1295.3,730 L1291.6,688.9 L1286.5,653.4 L1282.7,652.1 L1282.7,645.7 L1289.7,643.2 Z"/>
<path class="t" d="M1292,640 L1326,634 M1293,645 L1320,641 M1290,655 L1295,700 L1298,760 M1294,652 L1299,700 L1302,765 L1306,785 M1298,652 L1304,700 L1307,765 M1302,652 L1308,700 L1311,770 M1300.8,730 L1307.6,781.7 L1298,798.1 M1315.7,730 L1319.8,784.5 L1317.1,798.1 L1298,803.5 M1300.8,819.9 L1332.1,817.1 M1308.9,807.6 h15 v9.5 h-15 z M1309,812 h15 M1306.2,862.1 L1341.6,855.3 M1300,834 L1333,829 M1305,700 L1312,740" />
<path class="f" d="M1320.5,648.3 L1324,648.3 L1329.5,689 L1333,730 L1330,730 L1326,689 Z M1287,656 L1290,656 L1294,700 L1291,700 Z"/>
<path class="t" d="M1226.1,634.3 L1231.8,683.9 M1245.8,635.6 L1250.9,681.3 M1250.9,629.2 L1257.3,681.3" style="stroke-width:2.4"/>
<!-- D9 rail 61214 -->
<path class="oa" d="M1352.3,617.2 L1363.5,612.2 L1414.5,602.3 L1464.2,592.3 L1468,593.6 L1475.4,604.8 L1474.2,611 L1464.2,616 L1464.2,621 L1439.3,626.7 L1436.9,622.2 L1369.7,634.6 L1357.3,639.6 L1352.3,634.6 L1354.8,630.9 L1359.7,628.4 L1352.3,624.7 Z" style="stroke-width:5.0"/><path class="ob" d="M1352.3,617.2 L1363.5,612.2 L1414.5,602.3 L1464.2,592.3 L1468,593.6 L1475.4,604.8 L1474.2,611 L1464.2,616 L1464.2,621 L1439.3,626.7 L1436.9,622.2 L1369.7,634.6 L1357.3,639.6 L1352.3,634.6 L1354.8,630.9 L1359.7,628.4 L1352.3,624.7 Z" />
<path class="t" d="M1363.5,612.2 L1367.2,634.6 M1417,602.3 L1420,620 M1368,618 L1470,598 M1368,625 L1470,606 M1368,630 L1436,618 M1420,616 L1465,608"/>
<!-- D10 silencer -->
<path class="oa" d="M1361.7,739 L1392,733.5 L1396.3,740.2 L1365.9,748.9 Z"/><path class="ob" d="M1361.7,739 L1392,733.5 L1396.3,740.2 L1365.9,748.9 Z"/>
<path class="t" d="M1363,742 L1394,736.5"/>
<path class="d" d="M1336,748.9 L1361,743.4 M1283.8,761.4 L1295,760" style="stroke-width:1.3"/>
<!-- D11 panel 61416 -->
<path class="oa" d="M1367.5,816.8 L1493.3,788.5 L1499.3,789.5 L1500.3,797.9 L1508.3,803.9 L1508.3,809.9 L1379.9,838.7 L1372.9,838.7 L1371.9,829.8 L1367.5,825.8 Z" style="stroke-width:5.0"/><path class="ob" d="M1367.5,816.8 L1493.3,788.5 L1499.3,789.5 L1500.3,797.9 L1508.3,803.9 L1508.3,809.9 L1379.9,838.7 L1372.9,838.7 L1371.9,829.8 L1367.5,825.8 Z" />
<path class="f" d="M1367.5,816.8 L1372.9,817.8 L1379.9,835.7 L1379.9,838.7 L1372.9,838.7 L1371.9,829.8 L1367.5,825.8 Z M1497,789 L1500,790 L1501,798 L1508.3,803.9 L1505,806 L1498,800 Z"/>
<path class="t" d="M1373,820 L1496,792.5 M1374,823.5 L1499,796 M1375,827 L1502,799.5 M1376,830.5 L1504,803 M1378,834 L1505,806" style="stroke-width:1.3"/>
<path class="t" d="M1380,837.5 L1507,809" style="stroke-width:2.4"/>
<!-- D12 quarter panel -->
<path class="t" d="M1518.3,578 L1546.6,574.4 L1560.8,580.3 L1565.5,588.6 L1575,624 L1582,671.2 L1585.6,718.4 L1586.7,796.2 L1520.7,815.1 L1516,816.3 L1512.4,808 L1508.9,798.6 L1537.2,789.2 L1540.7,777.4 L1539.6,706.6 L1537.2,635.8 L1534.8,595.7 L1524.2,596.9 L1524.2,593.3 L1526.6,591 L1525.4,585.1 L1518.3,582.7 Z" style="stroke-width:1.7"/>
<path class="t" d="M1540.7,593.3 L1553.7,659.4 L1559.6,671.2 L1560.8,711.3 L1553.7,727.8 L1552.5,789.2 L1523,803.3 L1520.7,812.8 M1563.1,675.9 L1576.1,673.5 M1556.1,736.1 L1582,731.4 M1560.8,769.1 L1580.8,765.6 L1580.8,786.8 L1562,791.5 Z M1522,581 L1547,577 M1524,585 L1556,581 M1547,578 L1555,600 L1570,640 L1578,700"/>
<!-- D14 bracket, washer, B -->
<path d="M1133.7,1017.8 L1142.7,997.9 L1150.6,994.5 L1157.6,996.9 L1167.6,1012.9 L1167.6,1024.8 L1161.6,1029.8 L1144.7,1035.8 L1134.7,1034.8 L1132.7,1026.8 Z" fill="none" stroke="#000" stroke-width="3.6" stroke-linejoin="round"/>
<ellipse cx="1151.6" cy="1016.8" rx="8.5" ry="11" transform="rotate(20 1151.6 1016.8)" fill="none" stroke="#000" stroke-width="3.2"/>
<ellipse cx="1152" cy="1016" rx="3" ry="6" transform="rotate(25 1152 1016)" fill="none" stroke="#000" stroke-width="2"/>
<path class="t" d="M1146,998 L1150,1003 L1154,999 M1140,1028 L1160,1024" style="stroke-width:1.2"/>
<ellipse cx="1181" cy="1032.8" rx="12" ry="13.6" fill="none" stroke="#000" stroke-width="4"/>
<ellipse cx="1183" cy="1032" rx="5" ry="8" transform="rotate(20 1183 1032)" fill="none" stroke="#000" stroke-width="2.4"/>
<path class="t" d="M1175,1026 L1174,1040" style="stroke-width:1.2"/>
<circle class="t" cx="1090" cy="1006.9" r="10" style="stroke-width:2"/>
<text x="1084" y="1013.3" font-size="17" style="font-weight:bold">B</text>
<path class="d" d="M1104.2,1012.6 L1133.6,1026.3" style="stroke-width:1.4"/>
<path class="l" d="M1156,999.5 L1345.3,1002 V1038.8 H1327 M1345.3,1021.3 H1356 M1195,1038.3 H1226.7" style="stroke-width:1.5"/>
<path class="d" d="M1207.5,895 V1043.7" style="stroke-width:1.5"/>

<text x="42.5" y="36.0" font-size="20.14" textLength="80.5" lengthAdjust="spacingAndGlyphs">02S, 03S</text>
<text x="146.0" y="75.0" font-size="19.87" textLength="57.4" lengthAdjust="spacingAndGlyphs">61223</text>
<text x="146.2" y="88.5" font-size="16.26" textLength="73.5" lengthAdjust="spacingAndGlyphs">CHANNEL</text>
<text x="233.0" y="77.0" font-size="20.66" textLength="56.0" lengthAdjust="spacingAndGlyphs">61211</text>
<text x="233.3" y="90.0" font-size="14.59" textLength="37.5" lengthAdjust="spacingAndGlyphs">RAIL</text>
<text x="269.0" y="114.0" font-size="19.40" textLength="56.0" lengthAdjust="spacingAndGlyphs">61203</text>
<text x="269.3" y="127.0" font-size="14.29" textLength="37.4" lengthAdjust="spacingAndGlyphs">RAIL</text>
<text x="36.0" y="114.0" font-size="19.23" textLength="101.4" lengthAdjust="spacingAndGlyphs">90149-60007</text>
<text x="172.6" y="362.0" font-size="18.03" textLength="98.8" lengthAdjust="spacingAndGlyphs">90034-80031</text>
<text x="195.6" y="382.0" font-size="17.36" textLength="101.3" lengthAdjust="spacingAndGlyphs">90950-01179</text>
<text x="210.1" y="443.0" font-size="18.69" textLength="98.4" lengthAdjust="spacingAndGlyphs">90950-01011</text>
<text x="34.5" y="447.0" font-size="19.32" textLength="56.4" lengthAdjust="spacingAndGlyphs">61103</text>
<text x="33.8" y="461.0" font-size="14.09" textLength="56.8" lengthAdjust="spacingAndGlyphs">PILLAR</text>
<text x="101.5" y="479.5" font-size="19.32" textLength="56.4" lengthAdjust="spacingAndGlyphs">61163</text>
<text x="101.8" y="492.5" font-size="13.62" textLength="55.9" lengthAdjust="spacingAndGlyphs">PILLAR</text>
<text x="482.1" y="253.4" font-size="17.71" textLength="163.3" lengthAdjust="spacingAndGlyphs">93530-16016 (2, RH)</text>
<text x="482.1" y="270.0" font-size="17.71" textLength="161.8" lengthAdjust="spacingAndGlyphs">93230-16016 (2, LH)</text>
<text x="384.1" y="321.5" font-size="19.23" textLength="54.9" lengthAdjust="spacingAndGlyphs">61351</text>
<text x="384.3" y="334.5" font-size="12.98" textLength="53.3" lengthAdjust="spacingAndGlyphs">COVER</text>
<text x="487.6" y="341.0" font-size="18.69" textLength="68.4" lengthAdjust="spacingAndGlyphs">61351B</text>
<text x="487.8" y="355.0" font-size="14.18" textLength="90.9" lengthAdjust="spacingAndGlyphs">PROTECTOR</text>
<text x="692.5" y="40.0" font-size="19.40" textLength="30.0" lengthAdjust="spacingAndGlyphs">TW</text>
<text x="764.0" y="92.5" font-size="18.78" textLength="57.4" lengthAdjust="spacingAndGlyphs">61223</text>
<text x="823.7" y="89.6" font-size="13.00" textLength="33.1" lengthAdjust="spacingAndGlyphs">(RH)</text>
<text x="764.3" y="105.5" font-size="13.75" textLength="75.4" lengthAdjust="spacingAndGlyphs">CHANNEL</text>
<text x="870.5" y="83.5" font-size="19.87" textLength="54.9" lengthAdjust="spacingAndGlyphs">61211</text>
<text x="869.8" y="97.0" font-size="14.29" textLength="36.9" lengthAdjust="spacingAndGlyphs">RAIL</text>
<text x="904.0" y="117.0" font-size="20.75" textLength="57.1" lengthAdjust="spacingAndGlyphs">61203</text>
<text x="904.3" y="129.5" font-size="13.75" textLength="36.9" lengthAdjust="spacingAndGlyphs">RAIL</text>
<text x="938.0" y="83.5" font-size="20.55" textLength="69.0" lengthAdjust="spacingAndGlyphs">61301B</text>
<text x="937.2" y="96.5" font-size="16.26" textLength="55.5" lengthAdjust="spacingAndGlyphs">PILLAR</text>
<text x="976.0" y="117.0" font-size="21.11" textLength="56.0" lengthAdjust="spacingAndGlyphs">61307</text>
<text x="975.3" y="129.5" font-size="13.75" textLength="56.4" lengthAdjust="spacingAndGlyphs">PILLAR</text>
<text x="1065.5" y="74.5" font-size="21.21" textLength="57.1" lengthAdjust="spacingAndGlyphs">61213</text>
<text x="1065.8" y="88.0" font-size="15.14" textLength="37.5" lengthAdjust="spacingAndGlyphs">RAIL</text>
<text x="1031.5" y="225.5" font-size="20.55" textLength="71.5" lengthAdjust="spacingAndGlyphs">61351A</text>
<text x="1031.8" y="238.5" font-size="13.75" textLength="61.4" lengthAdjust="spacingAndGlyphs">GASKET</text>
<text x="1125.2" y="275.5" font-size="15.57" textLength="101.2" lengthAdjust="spacingAndGlyphs">93530-16016</text>
<text x="1108.0" y="305.5" font-size="21.11" textLength="55.0" lengthAdjust="spacingAndGlyphs">61351</text>
<text x="1108.3" y="318.5" font-size="13.75" textLength="52.4" lengthAdjust="spacingAndGlyphs">COVER</text>
<text x="1099.0" y="399.0" font-size="19.40" textLength="56.0" lengthAdjust="spacingAndGlyphs">61415</text>
<text x="1099.3" y="412.0" font-size="14.29" textLength="49.4" lengthAdjust="spacingAndGlyphs">PANEL</text>
<text x="1175.0" y="404.0" font-size="19.40" textLength="68.5" lengthAdjust="spacingAndGlyphs">61351B</text>
<text x="1174.3" y="417.5" font-size="14.29" textLength="91.9" lengthAdjust="spacingAndGlyphs">PROTECTOR</text>
<text x="1094.1" y="438.0" font-size="17.44" textLength="101.3" lengthAdjust="spacingAndGlyphs">90950-01049</text>
<text x="790.6" y="345.5" font-size="17.90" textLength="99.3" lengthAdjust="spacingAndGlyphs">90034-80031</text>
<text x="848.1" y="444.0" font-size="17.36" textLength="98.3" lengthAdjust="spacingAndGlyphs">90950-01011</text>
<text x="666.0" y="451.0" font-size="19.40" textLength="55.5" lengthAdjust="spacingAndGlyphs">61103</text>
<text x="665.3" y="464.5" font-size="13.53" textLength="55.8" lengthAdjust="spacingAndGlyphs">PILLAR</text>
<text x="745.5" y="487.5" font-size="19.40" textLength="56.5" lengthAdjust="spacingAndGlyphs">61163</text>
<text x="745.8" y="501.0" font-size="14.09" textLength="55.3" lengthAdjust="spacingAndGlyphs">PILLAR</text>
<text x="975.0" y="479.0" font-size="19.94" textLength="56.0" lengthAdjust="spacingAndGlyphs">61333</text>
<text x="974.3" y="491.5" font-size="12.98" textLength="49.3" lengthAdjust="spacingAndGlyphs">PLATE</text>
<text x="419.0" y="591.5" font-size="20.55" textLength="55.5" lengthAdjust="spacingAndGlyphs">61204</text>
<text x="418.3" y="604.5" font-size="14.29" textLength="37.9" lengthAdjust="spacingAndGlyphs">RAIL</text>
<text x="257.6" y="660.0" font-size="17.36" textLength="103.8" lengthAdjust="spacingAndGlyphs">61167-95A00</text>
<text x="201.6" y="683.5" font-size="17.90" textLength="98.8" lengthAdjust="spacingAndGlyphs">90154-60001</text>
<text x="149.6" y="808.5" font-size="17.90" textLength="97.8" lengthAdjust="spacingAndGlyphs">90034-80031</text>
<text x="472.6" y="756.5" font-size="18.03" textLength="73.3" lengthAdjust="spacingAndGlyphs">Refer to</text>
<text x="472.5" y="776.0" font-size="20.00" textLength="96.0" lengthAdjust="spacingAndGlyphs">FIG. 75-54</text>
<text x="495.0" y="603.5" font-size="20.55" textLength="56.5" lengthAdjust="spacingAndGlyphs">61212</text>
<text x="494.3" y="616.5" font-size="13.75" textLength="38.4" lengthAdjust="spacingAndGlyphs">RAIL</text>
<text x="571.5" y="625.0" font-size="21.11" textLength="55.0" lengthAdjust="spacingAndGlyphs">61224</text>
<text x="571.8" y="638.0" font-size="14.29" textLength="73.9" lengthAdjust="spacingAndGlyphs">CHANNEL</text>
<text x="591.0" y="732.0" font-size="21.21" textLength="71.6" lengthAdjust="spacingAndGlyphs">61339A</text>
<text x="591.3" y="744.5" font-size="14.29" textLength="74.9" lengthAdjust="spacingAndGlyphs">SILENCER</text>
<text x="294.5" y="945.5" font-size="20.66" textLength="56.0" lengthAdjust="spacingAndGlyphs">61164</text>
<text x="293.8" y="958.5" font-size="13.75" textLength="57.4" lengthAdjust="spacingAndGlyphs">PILLAR</text>
<text x="340.0" y="980.5" font-size="21.86" textLength="56.6" lengthAdjust="spacingAndGlyphs">61104</text>
<text x="339.3" y="993.0" font-size="14.09" textLength="57.8" lengthAdjust="spacingAndGlyphs">PILLAR</text>
<text x="527.5" y="890.0" font-size="20.00" textLength="57.0" lengthAdjust="spacingAndGlyphs">61352</text>
<text x="527.8" y="903.0" font-size="14.29" textLength="51.9" lengthAdjust="spacingAndGlyphs">COVER</text>
<text x="1063.0" y="587.5" font-size="21.11" textLength="55.5" lengthAdjust="spacingAndGlyphs">61204</text>
<text x="1063.3" y="601.0" font-size="14.29" textLength="37.9" lengthAdjust="spacingAndGlyphs">RAIL</text>
<text x="913.1" y="651.0" font-size="17.36" textLength="105.3" lengthAdjust="spacingAndGlyphs">61167-95A00</text>
<text x="858.1" y="675.5" font-size="17.90" textLength="99.8" lengthAdjust="spacingAndGlyphs">90154-60001</text>
<text x="1134.0" y="613.0" font-size="21.11" textLength="56.0" lengthAdjust="spacingAndGlyphs">61212</text>
<text x="1134.3" y="626.0" font-size="14.29" textLength="37.4" lengthAdjust="spacingAndGlyphs">RAIL</text>
<text x="1200.0" y="560.5" font-size="19.23" textLength="56.9" lengthAdjust="spacingAndGlyphs">61308</text>
<text x="1200.2" y="574.5" font-size="16.26" textLength="56.0" lengthAdjust="spacingAndGlyphs">PILLAR</text>
<text x="1281.0" y="585.0" font-size="18.78" textLength="71.4" lengthAdjust="spacingAndGlyphs">61302A</text>
<text x="1280.4" y="597.0" font-size="12.27" textLength="56.2" lengthAdjust="spacingAndGlyphs">PILLAR</text>
<text x="1380.5" y="559.5" font-size="20.75" textLength="56.6" lengthAdjust="spacingAndGlyphs">61214</text>
<text x="1381.2" y="573.0" font-size="15.14" textLength="37.0" lengthAdjust="spacingAndGlyphs">RAIL</text>
<text x="1350.5" y="690.0" font-size="19.87" textLength="71.4" lengthAdjust="spacingAndGlyphs">61339A</text>
<text x="1350.8" y="704.0" font-size="13.75" textLength="74.9" lengthAdjust="spacingAndGlyphs">SILENCER</text>
<text x="1114.1" y="755.5" font-size="17.36" textLength="71.8" lengthAdjust="spacingAndGlyphs">Refer to</text>
<text x="1114.0" y="775.0" font-size="21.11" textLength="94.0" lengthAdjust="spacingAndGlyphs">FIG. 75-54</text>
<text x="1413.0" y="881.0" font-size="19.40" textLength="57.0" lengthAdjust="spacingAndGlyphs">61416</text>
<text x="1413.3" y="894.0" font-size="14.29" textLength="49.4" lengthAdjust="spacingAndGlyphs">PANEL</text>
<text x="1230.5" y="929.5" font-size="19.40" textLength="55.5" lengthAdjust="spacingAndGlyphs">61334</text>
<text x="1229.8" y="942.0" font-size="13.75" textLength="49.4" lengthAdjust="spacingAndGlyphs">PLATE</text>
<text x="1355.0" y="1023.0" font-size="21.11" textLength="72.0" lengthAdjust="spacingAndGlyphs">61334A</text>
<text x="1356.2" y="1036.5" font-size="15.50" textLength="72.6" lengthAdjust="spacingAndGlyphs">BRACKET</text>
<text x="1225.7" y="1043.5" font-size="16.61" textLength="100.2" lengthAdjust="spacingAndGlyphs">90480-54004</text>
<text x="1473.2" y="1062.0" font-size="15.57" textLength="24.7" lengthAdjust="spacingAndGlyphs">M8</text>
<text x="1507.7" y="1062.0" font-size="15.57" textLength="56.7" lengthAdjust="spacingAndGlyphs">C285-D</text>
<text x="787.0" y="810.5" font-size="18.78" textLength="99.9" lengthAdjust="spacingAndGlyphs">90034-80031</text>
<text x="935.0" y="959.5" font-size="19.40" textLength="56.5" lengthAdjust="spacingAndGlyphs">61164</text>
<text x="934.3" y="972.0" font-size="12.98" textLength="56.8" lengthAdjust="spacingAndGlyphs">PILLAR</text>
<text x="981.0" y="994.0" font-size="19.94" textLength="56.0" lengthAdjust="spacingAndGlyphs">61104</text>
<text x="980.3" y="1006.5" font-size="12.98" textLength="56.3" lengthAdjust="spacingAndGlyphs">PILLAR</text>
<text x="1058.0" y="863.5" font-size="19.87" textLength="55.4" lengthAdjust="spacingAndGlyphs">61224</text>
<text x="1058.3" y="877.0" font-size="14.29" textLength="72.4" lengthAdjust="spacingAndGlyphs">CHANNEL</text>
<text x="1161.0" y="871.5" font-size="19.46" textLength="56.5" lengthAdjust="spacingAndGlyphs">61352</text>
<text x="1161.3" y="885.0" font-size="14.29" textLength="52.9" lengthAdjust="spacingAndGlyphs">COVER</text>
<text x="1090.1" y="903.5" font-size="17.90" textLength="101.8" lengthAdjust="spacingAndGlyphs">90950-01150</text>
<text x="1079.1" y="927.0" font-size="18.57" textLength="100.9" lengthAdjust="spacingAndGlyphs">90950-01027</text>
<text x="1043.1" y="971.5" font-size="18.43" textLength="126.3" lengthAdjust="spacingAndGlyphs">91616-40614 (3)</text>
</svg>
</body></html>
